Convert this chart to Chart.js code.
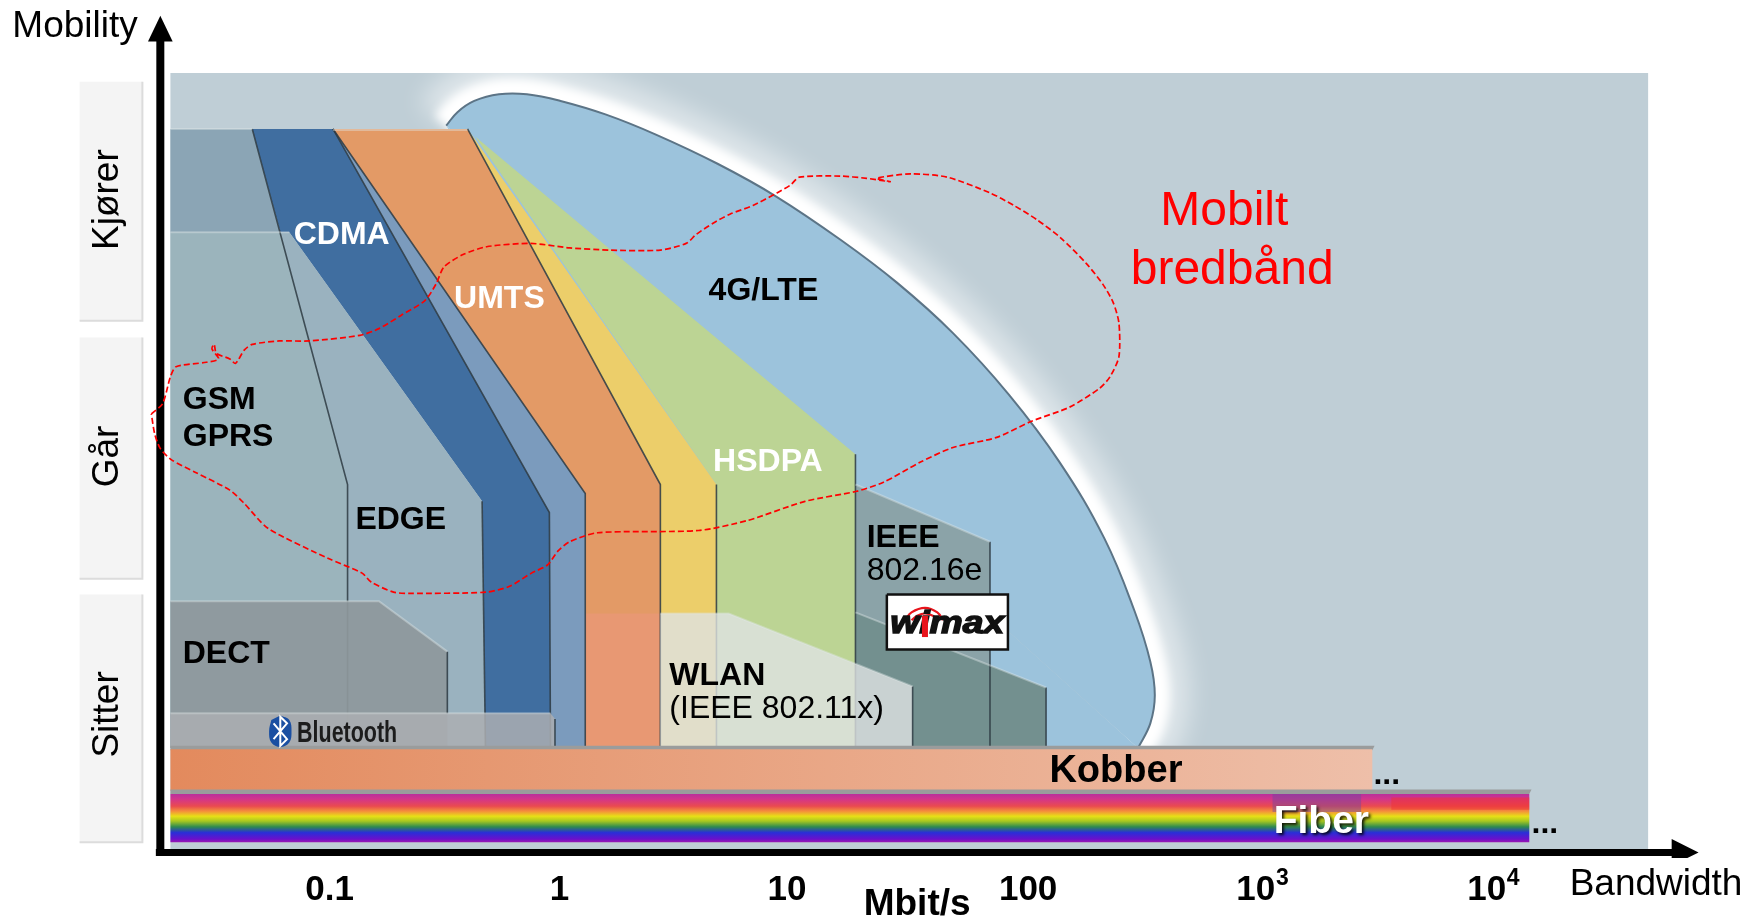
<!DOCTYPE html>
<html>
<head>
<meta charset="utf-8">
<title>Mobility vs bandwidth</title>
<script src="https://cdn.jsdelivr.net/npm/chart.js@4"></script>
<style>
  html, body { margin: 0; padding: 0; background: #fff; }
  canvas { display: block; }
</style>
</head>
<body>
<canvas id="chart" width="1758" height="923"></canvas>
<script>
// x axis ticks (bandwidth, one step per decade), exponents are written next to the last two
const tickValues = [294, 499, 702, 917, 1120, 1326];
const tickLabels = ['0.1', '1', '10', '100', '10', '10'];

// Outlines of the technology areas, as [bandwidth, mobility] pairs in diagram units
const panel = [[152, 65], [1470, 65], [1470, 757], [152, 757]];
const boxDrive = [[71, 73], [127, 73], [127, 286], [71, 286]];
const boxWalk = [[71, 301], [127, 301], [127, 516], [71, 516]];
const boxSit = [[71, 530], [127, 530], [127, 751], [71, 751]];
const lteRim = [[398, 112], [408, 100], [423, 90], [445, 84], [470, 84], [500, 90], [540, 102], [585, 120], [640, 146],
  [692, 175], [750, 214], [800, 252], [850, 297], [900, 352], [945, 412], [985, 480], [1012, 545], [1026, 590],
  [1030, 620], [1026, 645], [1015, 667]];
const lteBase = [[398, 112], [1015, 667], [500, 667], [400, 115]];
const wimaxUpper = [[763, 432], [883, 483], [883, 667], [763, 667]];
const wimaxLower = [[763, 546], [933, 613], [933, 667], [763, 667]];
const hsdpa = [[424, 122], [763, 405], [763, 667], [639, 667], [639, 432]];
const hspa = [[417, 115], [639, 432], [639, 667], [589, 667], [589, 432]];
const umts = [[297, 115], [417, 115], [589, 432], [589, 667], [522, 667], [522, 440]];
const evdo = [[297, 115], [522, 440], [522, 667], [490, 667], [490, 457]];
const cdma = [[225, 115], [297, 115], [490, 457], [491, 667], [433, 667], [430, 447], [258, 207], [250, 207]];
const edge = [[250, 207], [258, 207], [430, 447], [433, 667], [310, 667], [310, 432]];
const gsm = [[152, 207], [250, 207], [310, 432], [310, 667], [152, 667]];
const gsmTop = [[152, 115], [225, 115], [250, 207], [152, 207]];
const umtsLow = [[522, 547], [589, 547], [589, 667], [522, 667]];
const wlan = [[589, 547], [650, 547], [814, 612], [814, 667], [589, 667]];
const dect = [[152, 536], [338, 536], [399, 581], [399, 667], [152, 667]];
const bluetooth = [[152, 636], [491, 636], [495, 641], [495, 667], [152, 667]];
const kobberLip = [[152, 665], [1226, 665], [1224, 669], [152, 669]];
const kobber = [[152, 668], [1224, 668], [1224, 705], [152, 705]];
const fiberLip = [[152, 704], [1366, 704], [1364, 708], [152, 708]];
const fiber = [[152, 708], [1364, 708], [1364, 751], [152, 751]];
const fiberTint = [[1135, 708], [1214, 708], [1214, 724], [1135, 724]];
const fiberRed = [[1241, 711], [1364, 711], [1364, 722], [1241, 722]];

// Edge lines along the areas. The back ones shine through WLAN, DECT and Bluetooth
const backEdges = [
  [[225, 115], [310, 432], [310, 667]],
  [[297, 115], [490, 457], [491, 667]],
  [[297, 115], [522, 440], [522, 667]],
  [[417, 115], [589, 432], [589, 667]],
  [[430, 447], [433, 667]],
  [[639, 432], [639, 667]],
  [[763, 405], [763, 667]],
  [[883, 483], [883, 667]],
  [[933, 613], [933, 667]]
];
const frontEdges = [
  [[399, 581], [399, 636]],
  [[814, 612], [814, 667]],
  [[495, 641], [495, 667]]
];
const lightEdges = [
  [[152, 115], [225, 115]],
  [[297, 116], [417, 116]],
  [[152, 207], [258, 207]],
  [[152, 536], [338, 536], [399, 581]],
  [[152, 636], [491, 636]],
  [[589, 547], [650, 547], [814, 612]],
  [[763, 432], [883, 483]],
  [[763, 546], [933, 613]]
];

// "Mobilt bredbånd" boundary, walked from the left side clockwise
const cloud = [[135, 369], [145, 360], [152, 336], [157, 327], [184, 323], [195, 320], [189, 311], [191, 307], [193, 315],
  [205, 320], [210, 324], [218, 312], [225, 307], [249, 304], [276, 304], [321, 299], [338, 293], [358, 281], [379, 268],
  [389, 253], [396, 238], [413, 227], [434, 220], [473, 217], [508, 221], [544, 223], [589, 223], [612, 217], [621, 209],
  [636, 199], [651, 191], [672, 183], [693, 172], [705, 165], [713, 158], [749, 157], [773, 159], [794, 162], [782, 159],
  [812, 155], [845, 158], [883, 172], [904, 183], [925, 196], [946, 212], [969, 235], [984, 254], [993, 270], [998, 288],
  [998, 318], [990, 336], [981, 346], [954, 363], [919, 376], [889, 390], [850, 399], [821, 412], [788, 430], [764, 438],
  [718, 447], [667, 464], [623, 473], [533, 475], [508, 483], [498, 491], [488, 504], [474, 511], [454, 523], [433, 528],
  [365, 529], [351, 528], [331, 519], [323, 511], [293, 498], [239, 471], [218, 449], [205, 437], [174, 421], [153, 410],
  [143, 400], [138, 387], [135, 369]];

// Axis arrows
const axisY = [[143, 763], [143, 34]];
const axisX = [[139, 760], [1493, 760]];
const arrowY = [[143, 14], [154, 37], [132, 37]];
const arrowX = [[1515, 760], [1491, 748], [1491, 772]];

// Logos
const btOval = [[250, 638], [258, 642], [260, 652], [258, 662], [250, 666], [242, 662], [240, 652], [242, 642]];
const btRune = [[244, 645], [256, 659], [250, 665], [250, 639], [256, 645], [244, 659]];
const wimaxBox = [[791, 530], [899, 530], [899, 579], [791, 579]];
const wimaxArcs = [
  [[807, 553], [813, 546], [825, 542], [836, 546], [841, 553]],
  [[813, 553], [818, 549], [825, 547], [832, 549], [837, 553]]
];
const wimaxStem = [[825, 549], [825, 568]];

// Technology and axis texts
const labelFont = 'bold 32px "Liberation Sans"';
const plainFont = '32px "Liberation Sans"';
const axisFont = '37px "Liberation Sans"';
const texts = [
  { text: 'Mobility', x: 11, y: 24, font: axisFont },
  { text: 'Bandwidth', x: 1400, y: 789, font: axisFont },
  { text: 'Mbit/s', x: 818, y: 807, font: 'bold 37px "Liberation Sans"', align: 'center' },
  { text: '3', x: 1138, y: 783, font: 'bold 23px "Liberation Sans"' },
  { text: '4', x: 1344, y: 783, font: 'bold 23px "Liberation Sans"' },
  { text: 'Mobilt', x: 1092, y: 189, font: '48px "Liberation Sans"', color: '#ff0000', align: 'center' },
  { text: 'bredbånd', x: 1099, y: 241, font: '48px "Liberation Sans"', color: '#ff0000', align: 'center' },
  { text: 'CDMA', x: 262, y: 210, font: labelFont, color: '#fff' },
  { text: 'UMTS', x: 405, y: 267, font: labelFont, color: '#fff' },
  { text: 'HSDPA', x: 636, y: 412, font: labelFont, color: '#fff' },
  { text: '4G/LTE', x: 632, y: 260, font: labelFont },
  { text: 'GSM', x: 163, y: 357, font: labelFont },
  { text: 'GPRS', x: 163, y: 390, font: labelFont },
  { text: 'EDGE', x: 317, y: 464, font: labelFont },
  { text: 'DECT', x: 163, y: 583, font: labelFont },
  { text: 'IEEE', x: 773, y: 480, font: labelFont },
  { text: '802.16e', x: 773, y: 509, font: plainFont },
  { text: 'WLAN', x: 597, y: 603, font: labelFont },
  { text: '(IEEE 802.11x)', x: 597, y: 632, font: plainFont },
  { text: 'Kobber', x: 936, y: 688, font: 'bold 38px "Liberation Sans"' },
  { text: '...', x: 1225, y: 691, font: 'bold 32px "Liberation Sans"' },
  { text: '...', x: 1366, y: 735, font: 'bold 32px "Liberation Sans"' },
  { text: 'Bluetooth', x: 265, y: 654, font: 'bold 30px "Liberation Sans"', color: '#1c1c1c', maxWidth: 100 },
  { text: 'wimax', x: 794, y: 557, font: 'italic bold 31px "Liberation Sans"', color: '#111', stretchTo: 114, heavy: true },
  { text: 'Fiber', x: 1136, y: 733, font: 'bold 39px "Liberation Sans"', color: '#fff', shadow: true },
  { text: 'Kjører', x: 96, y: 178, font: axisFont, align: 'center', rotate: true },
  { text: 'Går', x: 96, y: 407, font: axisFont, align: 'center', rotate: true },
  { text: 'Sitter', x: 96, y: 637, font: axisFont, align: 'center', rotate: true }
];

// Copper bar fades left to right
function kobberGradient(context) {
  const { chart } = context;
  const x0 = chart.scales.x.getPixelForValue(152);
  const x1 = chart.scales.x.getPixelForValue(1224);
  if (!isFinite(x0) || !isFinite(x1)) return '#e38a5d'; // scales not laid out yet
  const g = chart.ctx.createLinearGradient(x0, 0, x1, 0);
  g.addColorStop(0, '#e38a5d');
  g.addColorStop(1, '#eebfa9');
  return g;
}

// Fibre bar is a vertical rainbow
function fiberGradient(context) {
  const { chart } = context;
  const y0 = chart.scales.y.getPixelForValue(708);
  const y1 = chart.scales.y.getPixelForValue(751);
  if (!isFinite(y0) || !isFinite(y1)) return '#e8e016';
  const g = chart.ctx.createLinearGradient(0, y0, 0, y1);
  g.addColorStop(0, '#b9309c');
  g.addColorStop(0.1, '#d2358c');
  g.addColorStop(0.25, '#ea4a50');
  g.addColorStop(0.36, '#f4923a');
  g.addColorStop(0.46, '#e8e016');
  g.addColorStop(0.56, '#a8c820');
  g.addColorStop(0.68, '#2e8a50');
  g.addColorStop(0.8, '#2a2ed8');
  g.addColorStop(0.93, '#6a10cc');
  g.addColorStop(1, '#9a18b0');
  return g;
}

function area(data, color, extra) {
  return Object.assign({ data, backgroundColor: color, borderWidth: 0, fill: 'shape' }, extra);
}

function stroke(data, color, width, extra) {
  return Object.assign({ data, borderColor: color, borderWidth: width, fill: false }, extra);
}

// Painted in this order, first entry at the back
const layers = [
  area(boxDrive, '#f4f4f4'), area(boxWalk, '#f4f4f4'), area(boxSit, '#f4f4f4'),
  stroke(boxDrive.slice(1, 4), '#dcdcdc', 2), stroke(boxWalk.slice(1, 4), '#dcdcdc', 2), stroke(boxSit.slice(1, 4), '#dcdcdc', 2),
  area(panel, '#bfced6'),
  stroke(lteRim, 'rgba(255,255,255,0.5)', 70, { tension: 0.4, blur: 12 }),
  stroke(lteRim, '#fff', 30, { tension: 0.4, blur: 5 }),
  area(lteRim, '#9cc3dc', { tension: 0.4 }),
  area(lteBase, '#9cc3dc'),
  stroke(lteRim, '#5c7486', 2, { tension: 0.4 }),
  area(wimaxUpper, '#8ba3a8'),
  area(wimaxLower, '#73908f'),
  area(hsdpa, '#bcd494'),
  area(hspa, '#ecce6a'),
  area(umts, '#e39a66'),
  area(evdo, '#7b9bbd'),
  area(cdma, '#406ea0'),
  area(edge, '#9ab2bf'),
  area(gsm, '#9bb4bc'),
  area(gsmTop, '#8ba5b5'),
  area(umtsLow, 'rgba(240,150,140,0.35)')
];
backEdges.forEach(e => layers.push(stroke(e, 'rgba(45,58,66,0.85)', 1.6)));
layers.push(
  area(wlan, 'rgba(222,226,226,0.8)'),
  area(dect, 'rgba(142,152,156,0.92)'),
  area(bluetooth, 'rgba(172,174,178,0.85)')
);
frontEdges.forEach(e => layers.push(stroke(e, 'rgba(45,58,66,0.85)', 1.6)));
lightEdges.forEach(e => layers.push(stroke(e, 'rgba(225,232,232,0.4)', 2)));
layers.push(
  area(kobberLip, '#9a9c9c'),
  area(kobber, kobberGradient),
  area(fiberLip, '#9a9c9c'),
  area(fiber, fiberGradient),
  area(fiberTint, 'rgba(110,70,160,0.45)'),
  area(fiberRed, 'rgba(240,50,50,0.5)'),
  area(btOval, '#1a4fa2', { tension: 0.4 }),
  stroke(btRune, '#fff', 2),
  area(wimaxBox, '#fff'),
  stroke(wimaxBox.concat([wimaxBox[0]]), '#111', 2.5)
);
wimaxArcs.forEach(a => layers.push(stroke(a, '#e8141c', 2.2, { tension: 0.4 })));
layers.push(
  stroke(axisY, '#000', 8),
  stroke(axisX, '#000', 7),
  area(arrowY, '#000'),
  area(arrowX, '#000'),
  stroke(cloud, '#ff0000', 1.7, { borderDash: [6, 3], tension: 0.25 })
);

// Glow around the 4G area is a blurred stroke
const glowPlugin = {
  id: 'glow',
  beforeDatasetDraw(chart, args) {
    const ds = chart.data.datasets[args.index];
    if (ds.blur) {
      chart.ctx.save();
      chart.ctx.filter = 'blur(' + ds.blur + 'px)';
    }
  },
  afterDatasetDraw(chart, args) {
    if (chart.data.datasets[args.index].blur) chart.ctx.restore();
  }
};

// Writes the labels at their diagram position, then the red mast over the i of wimax
const textPlugin = {
  id: 'texts',
  afterDatasetsDraw(chart) {
    const { ctx, scales } = chart;
    texts.forEach(t => {
      ctx.save();
      ctx.font = t.font;
      ctx.fillStyle = t.color || '#000';
      ctx.textAlign = t.align || 'left';
      ctx.textBaseline = 'middle';
      ctx.translate(scales.x.getPixelForValue(t.x), scales.y.getPixelForValue(t.y));
      if (t.rotate) ctx.rotate(-Math.PI / 2);
      if (t.stretchTo) ctx.scale(t.stretchTo / ctx.measureText(t.text).width, 1);
      if (t.shadow) {
        ctx.shadowColor = 'rgba(0,0,0,0.85)';
        ctx.shadowBlur = 3;
        ctx.shadowOffsetX = 2;
        ctx.shadowOffsetY = 2;
      }
      if (t.maxWidth) ctx.fillText(t.text, 0, 0, t.maxWidth);
      else ctx.fillText(t.text, 0, 0);
      if (t.heavy) {
        ctx.strokeStyle = t.color;
        ctx.lineWidth = 1.4;
        ctx.strokeText(t.text, 0, 0);
      }
      ctx.restore();
    });
    ctx.save();
    ctx.strokeStyle = '#e8141c';
    ctx.lineWidth = 6;
    ctx.beginPath();
    ctx.moveTo(scales.x.getPixelForValue(wimaxStem[0][0]), scales.y.getPixelForValue(wimaxStem[0][1]));
    ctx.lineTo(scales.x.getPixelForValue(wimaxStem[1][0]), scales.y.getPixelForValue(wimaxStem[1][1]));
    ctx.stroke();
    ctx.restore();
  }
};

new Chart(document.getElementById('chart').getContext('2d'), {
  type: 'scatter',
  data: {
    datasets: layers.map((l, i) => Object.assign({
      showLine: true,
      pointRadius: 0,
      order: layers.length - i
    }, l))
  },
  options: {
    responsive: false,
    animation: false,
    events: [],
    layout: { padding: 0 },
    plugins: { legend: { display: false }, tooltip: { enabled: false } },
    scales: {
      x: {
        type: 'linear',
        min: 0,
        max: 1568,
        grid: { display: false, drawTicks: false },
        border: { display: false },
        afterBuildTicks(scale) { scale.ticks = tickValues.map(value => ({ value })); },
        afterFit(scale) { scale.height = 65; },
        ticks: {
          autoSkip: false,
          maxRotation: 0,
          padding: 11,
          color: '#000',
          font: { family: '"Liberation Sans"', size: 35, weight: 'bold' },
          callback(value, index) { return tickLabels[index]; }
        }
      },
      y: { type: 'linear', display: false, reverse: true, min: 0, max: 765 }
    }
  },
  plugins: [glowPlugin, textPlugin]
});
</script>
</body>
</html>
